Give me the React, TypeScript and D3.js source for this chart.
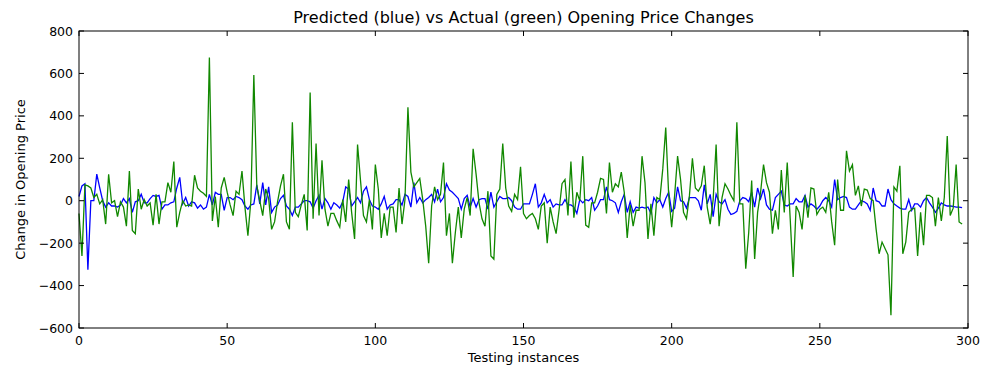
import React from 'react';
import * as d3 from 'd3';

const predicted: number[] = [
  20, 70, 80, -325, 0, 0, 125, 60, 0, -30,
  -10, -25, -25, -30, -20, 10, -10, 10, -55, -5,
  0, 30, -10, -10, 10, 25, 20, 25, -40, -20,
  -20, -10, -5, 60, 110, -15, 15, -25, -5, -10,
  -35, -20, -40, -30, 30, -20, 40, 30, 30, -45,
  15, 15, 5, 20, 15, 5, -25, -40, -20, -15,
  75, -15, 85, -20, 65, -55, -30, -20, 10, 25,
  -25, -40, -70, -30, -30, -15, 0, 0, -5, -35,
  0, 25, -40, 10, -10, -40, -10, -20, -35, -5,
  65, 55, -25, -5, 15, -10, 45, 65, 5, -25,
  -30, -40, -15, 20, -40, -20, -15, 5, 5, -20,
  30, 20, -30, 85, -10, 15, -10, 5, 15, 30,
  -5, 55, -5, 15, 80, 50, 40, 25, 10, -40,
  10, 25, -30, 10, -30, 5, 10, 10, -40, 40,
  -30, -5, 20, 10, 10, 15, 0, -30, -40, -40,
  -15, -15, -15, 30, 80, -30, -10, 30, -10, 5,
  -30, -15, -20, -20, 5, -20, -20, -30, -60, 5,
  -10, 5, 0, 15, -45, -25, 5, 5, 65, 5,
  0, -10, -55, -5, 30, -55, -5, -55, -30, -35,
  -30, -35, -30, -60, 15, -10, 5, -30, 10, 40,
  -50, -35, 65, 0, -5, -35, 15, 15, 15, 0,
  -45, 75, -15, 30, -75, 30, -5, -15, 5, -40,
  -65, -60, -50, 0, 15, 10, -5, 40, -30, 60,
  10, 55, -20, -40, -45, 15, 30, 45, -20, -25,
  -15, -15, 10, -5, -5, 25, -30, -15, -25, -40,
  -25, 0, 15, 0, -30, 100, 5, 15, 20, 15,
  -30, -40, -40, -20, 0, -5, -15, -45, 60, 0,
  -5, -25, -25, 55, 5, -15, -25, -35, -40, -40,
  5, -45, -15, -15, -30, 0, 15, -10, -30, -55,
  -35, -10, -20, -25, -25, -27, -30, -30, -33,
];

const actual: number[] = [
  -60, -260, 75, 70, 60, 15, 30, -15, 5, -110,
  125, -10, 0, -75, -5, -30, -120, 140, -140, -155,
  55, -40, 5, -25, -10, -115, 30, -110, -5, -5,
  85, 40, 185, -125, -55, 0, -25, -20, -25, 120,
  60, 45, 35, 20, 675, -95, 20, -125, 60, 110,
  40, -20, -70, 45, 30, 140, -30, -165, 0, 593,
  70, 0, -70, 55, 10, -135, -100, -5, 70, 125,
  -100, -135, 370, -55, -75, -20, 30, -140, 510, -85,
  270, -70, 190, -40, -120, -60, -60, -95, -125, 5,
  -100, 100, -55, -180, 265, 95, -70, -100, 5, -135,
  170, 55, -175, -60, -165, -30, -30, -150, 60, -110,
  5, 440, 135, 65, 85, 105, 5, -120, -295, -25,
  65, 5, 30, 180, -165, -60, -295, -150, -30, -175,
  -40, 15, -70, 245, 125, -10, -85, -120, 45, -260,
  -275, 30, 55, 270, 60, -25, -50, 30, 5, 160,
  -60, -85, -70, -60, -85, -135, -25, -10, -200, -30,
  -100, -155, -45, 80, 100, -70, 185, -80, 40, 0,
  210, -115, -125, -10, -10, 40, 105, 100, -60, 180,
  40, 80, 65, 135, 40, -175, -20, -120, -45, -45,
  210, 85, -180, -15, -165, 15, 5, 150, 345, 25,
  -125, 25, 210, 100, -55, -85, 25, 200, 60, 45,
  70, 165, -30, -110, 5, 265, -120, 15, 80, 55,
  25, 0, 370, -15, -15, -320, -150, 95, -275, -55,
  40, 170, 85, 40, -155, -45, -135, 145, -55, 180,
  -85, -360, -25, -55, -135, 25, -80, 60, 55, -65,
  -40, -30, -55, 40, -100, -210, 100, -45, -45, 235,
  140, 170, 25, 70, -25, 55, 50, 10, 0, -135,
  -250, -195, -225, -255, -540, 65, 45, 165, -250, -195,
  -55, -40, -35, -260, -55, -210, 25, 25, 15, -120,
  15, -95, 15, 305, -70, -35, 170, -100, -110,
];

const xTicks = [0, 50, 100, 150, 200, 250, 300];
const yTicks = [-600, -400, -200, 0, 200, 400, 600, 800];
const titleText = 'Predicted (blue) vs Actual (green) Opening Price Changes';
const xLabelText = 'Testing instances';
const yLabelText = 'Change in Opening Price';

const fmt = (v: number) => (v < 0 ? '\u2212' + Math.abs(v) : String(v));

export default function App() {
  const W = 992;
  const H = 378;
  const L = 79, R = 968, T = 31, B = 328;
  const x = d3.scaleLinear().domain([0, 300]).range([L, R]);
  const y = d3.scaleLinear().domain([-600, 800]).range([B, T]);
  const line = d3.line<number>().x((_, i) => x(i)).y((d) => y(d));
  const font = 'DejaVu Sans, sans-serif';
  const tl = 5;
  return (
    <svg width={W} height={H} style={{ position: 'absolute', left: 0, top: 0, background: '#fff' }} fontFamily={font}>
      <rect x={0} y={0} width={W} height={H} fill="#fff" />
      <path d={line(predicted) || ''} fill="none" stroke="#0000ff" strokeWidth={1.3} />
      <path d={line(actual) || ''} fill="none" stroke="#118800" strokeWidth={1.3} />
      <rect x={L} y={T} width={R - L} height={B - T} fill="none" stroke="#000" strokeWidth={1} />
      {xTicks.map((t) => (
        <g key={'x' + t}>
          <line x1={x(t)} x2={x(t)} y1={B} y2={B - tl} stroke="#000" />
          <line x1={x(t)} x2={x(t)} y1={T} y2={T + tl} stroke="#000" />
          <text x={x(t)} y={B + 17} fontSize={12.5} textAnchor="middle">{fmt(t)}</text>
        </g>
      ))}
      {yTicks.map((t) => (
        <g key={'y' + t}>
          <line x1={L} x2={L + tl} y1={y(t)} y2={y(t)} stroke="#000" />
          <line x1={R} x2={R - tl} y1={y(t)} y2={y(t)} stroke="#000" />
          <text x={L - 6} y={y(t) + 4.5} fontSize={12.5} textAnchor="end">{fmt(t)}</text>
        </g>
      ))}
      <text x={(L + R) / 2} y={23} fontSize={16} textAnchor="middle">{titleText}</text>
      <text x={(L + R) / 2} y={362} fontSize={13} textAnchor="middle">{xLabelText}</text>
      <text transform={`translate(25, ${(T + B) / 2}) rotate(-90)`} fontSize={13} textAnchor="middle">{yLabelText}</text>
    </svg>
  );
}
